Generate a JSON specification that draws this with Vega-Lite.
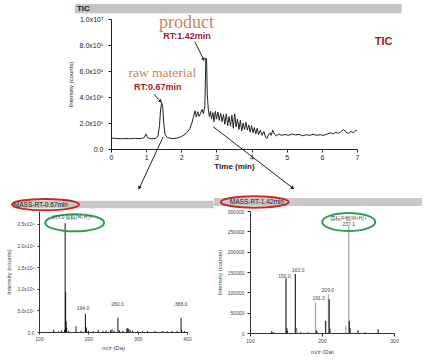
{
  "$schema": "https://vega.github.io/schema/vega-lite/v6.json",
  "background": "white",
  "padding": {"left": 5, "top": 4, "right": 0, "bottom": 0},
  "config": {
    "view": {"stroke": null},
    "font": "Liberation Sans",
    "axis": {"grid": false, "domainColor": "#222", "tickColor": "#222", "labelColor": "#222", "titleColor": "#222", "titleFontWeight": "normal"}
  },
  "bounds": "flush",
  "spacing": 62,
  "vconcat": [
    {
      "width": 318,
      "height": 130,
      "resolve": {"axis": {"x": "independent", "y": "independent"}},
      "layer": [
        {
          "data": {"values": [
            {"t":0,"i":850000},{"t":0.1,"i":820000},{"t":0.2,"i":800000},{"t":0.3,"i":790000},{"t":0.4,"i":810000},{"t":0.5,"i":800000},{"t":0.6,"i":790000},{"t":0.7,"i":820000},{"t":0.8,"i":800000},{"t":0.9,"i":830000},{"t":0.95,"i":900000},{"t":1.0,"i":1150000},{"t":1.04,"i":880000},{"t":1.1,"i":800000},{"t":1.2,"i":790000},{"t":1.28,"i":820000},{"t":1.34,"i":1000000},{"t":1.38,"i":1800000},{"t":1.41,"i":3000000},{"t":1.44,"i":3560000},{"t":1.47,"i":3300000},{"t":1.5,"i":2000000},{"t":1.54,"i":1100000},{"t":1.6,"i":880000},{"t":1.7,"i":820000},{"t":1.8,"i":810000},{"t":1.9,"i":850000},{"t":2.0,"i":950000},{"t":2.08,"i":1080000},{"t":2.16,"i":1260000},{"t":2.24,"i":1550000},{"t":2.3,"i":2000000},{"t":2.36,"i":2600000},{"t":2.39,"i":2940000},{"t":2.43,"i":2450000},{"t":2.47,"i":2870000},{"t":2.51,"i":2500000},{"t":2.55,"i":2750000},{"t":2.59,"i":3050000},{"t":2.63,"i":2700000},{"t":2.67,"i":3300000},{"t":2.7,"i":7000000},{"t":2.72,"i":6800000},{"t":2.74,"i":4200000},{"t":2.77,"i":3000000},{"t":2.8,"i":2500000},{"t":2.83,"i":2900000},{"t":2.86,"i":2300000},{"t":2.9,"i":2800000},{"t":2.93,"i":2100000},{"t":2.97,"i":2900000},{"t":3.0,"i":2300000},{"t":3.04,"i":2850000},{"t":3.08,"i":2200000},{"t":3.12,"i":2750000},{"t":3.16,"i":2100000},{"t":3.2,"i":2650000},{"t":3.24,"i":1900000},{"t":3.28,"i":2700000},{"t":3.32,"i":1800000},{"t":3.36,"i":2500000},{"t":3.4,"i":1750000},{"t":3.44,"i":2600000},{"t":3.48,"i":1600000},{"t":3.52,"i":2700000},{"t":3.56,"i":1700000},{"t":3.6,"i":2300000},{"t":3.64,"i":1500000},{"t":3.68,"i":2200000},{"t":3.72,"i":1400000},{"t":3.76,"i":2000000},{"t":3.8,"i":1500000},{"t":3.84,"i":2050000},{"t":3.88,"i":1450000},{"t":3.92,"i":1850000},{"t":3.96,"i":1300000},{"t":4.0,"i":1800000},{"t":4.04,"i":1250000},{"t":4.08,"i":1650000},{"t":4.12,"i":1150000},{"t":4.16,"i":1600000},{"t":4.2,"i":1100000},{"t":4.25,"i":1450000},{"t":4.3,"i":1050000},{"t":4.35,"i":1350000},{"t":4.4,"i":900000},{"t":4.44,"i":820000},{"t":4.48,"i":1100000},{"t":4.52,"i":1250000},{"t":4.56,"i":1050000},{"t":4.6,"i":1450000},{"t":4.65,"i":1150000},{"t":4.7,"i":1000000},{"t":4.78,"i":1150000},{"t":4.85,"i":1050000},{"t":4.95,"i":1120000},{"t":5.05,"i":1050000},{"t":5.15,"i":1150000},{"t":5.25,"i":1080000},{"t":5.35,"i":1120000},{"t":5.45,"i":1020000},{"t":5.55,"i":1100000},{"t":5.65,"i":1050000},{"t":5.75,"i":1130000},{"t":5.85,"i":1060000},{"t":5.95,"i":1100000},{"t":6.05,"i":1050000},{"t":6.15,"i":1150000},{"t":6.25,"i":1250000},{"t":6.32,"i":1150000},{"t":6.4,"i":1300000},{"t":6.48,"i":1200000},{"t":6.55,"i":1350000},{"t":6.62,"i":1500000},{"t":6.68,"i":1300000},{"t":6.75,"i":1200000},{"t":6.82,"i":1350000},{"t":6.9,"i":1250000},{"t":6.96,"i":1400000},{"t":7.0,"i":1450000}
          ]},
          "mark": {"type": "line", "color": "#222", "strokeWidth": 1},
          "encoding": {
            "x": {"field": "t", "type": "quantitative",
              "scale": {"domain": [0, 7], "range": [72, 318]},
              "axis": {"values": [0,1,2,3,4,5,6,7], "labelOverlap": false, "title": "Time (min)", "titleFontWeight": "bold", "titleFontSize": 8, "labelFontSize": 7, "tickSize": 3, "labelPadding": 1, "titlePadding": 2, "labelFlush": false}},
            "y": {"field": "i", "type": "quantitative",
              "scale": {"domain": [0, 10000000]},
              "axis": {"values": [0,2000000,4000000,6000000,8000000,10000000], "labelOverlap": false, "offset": -72,
                "labelExpr": "datum.value == 0 ? '0.0' : (datum.value >= 10000000 ? format(datum.value/10000000,'.1f') + 'x10⁷' : format(datum.value/1000000,'.1f') + 'x10⁶')",
                "title": "Intensity (counts)", "titleFontSize": 6, "labelFontSize": 7, "tickSize": 3, "labelPadding": 5, "titlePadding": 6}}
          }
        },
        {
          "data": {"values": [{}]},
          "mark": {"type": "rect", "color": "#c4c4c4"},
          "encoding": {"x": {"datum": -1.023, "axis": null}, "x2": {"datum": 8.27}, "y": {"datum": 11150000, "axis": null}, "y2": {"datum": 10440000}}
        },
        {
          "data": {"values": [{}]},
          "mark": {"type": "text", "text": "TIC", "align": "left", "baseline": "middle", "fontSize": 8, "fontWeight": "bold", "color": "#222"},
          "encoding": {"x": {"datum": -0.97, "axis": null}, "y": {"datum": 10800000, "axis": null}}
        },
        {
          "data": {"values": [{}]},
          "mark": {"type": "text", "text": "product", "align": "center", "baseline": "alphabetic", "font": "Liberation Serif", "fontSize": 18, "color": "#c8855c"},
          "encoding": {"x": {"datum": 2.145, "axis": null}, "y": {"datum": 9330000, "axis": null}}
        },
        {
          "data": {"values": [{}]},
          "mark": {"type": "text", "text": "RT:1.42min", "align": "center", "baseline": "middle", "fontSize": 9, "fontWeight": "bold", "color": "#9e1b1b"},
          "encoding": {"x": {"datum": 2.16, "axis": null}, "y": {"datum": 8690000, "axis": null}}
        },
        {
          "data": {"values": [{}]},
          "mark": {"type": "text", "text": "raw material", "align": "center", "baseline": "alphabetic", "font": "Liberation Serif", "fontSize": 13.5, "color": "#c8855c"},
          "encoding": {"x": {"datum": 1.463, "axis": null}, "y": {"datum": 5540000, "axis": null}}
        },
        {
          "data": {"values": [{}]},
          "mark": {"type": "text", "text": "RT:0.67min", "align": "center", "baseline": "middle", "fontSize": 9, "fontWeight": "bold", "color": "#9e1b1b"},
          "encoding": {"x": {"datum": 1.327, "axis": null}, "y": {"datum": 4750000, "axis": null}}
        },
        {
          "data": {"values": [{}]},
          "mark": {"type": "text", "text": "TIC", "align": "center", "baseline": "middle", "fontSize": 11, "fontWeight": "bold", "color": "#9e1b1b"},
          "encoding": {"x": {"datum": 7.76, "axis": null}, "y": {"datum": 8250000, "axis": null}}
        },
        {
          "data": {"values": [{}]},
          "mark": {"type": "rule", "color": "#222", "strokeWidth": 1},
          "encoding": {"x": {"datum": 2.386, "axis": null}, "y": {"datum": 8250000, "axis": null}, "x2": {"datum": 2.642}, "y2": {"datum": 6850000}}
        },
        {
          "data": {"values": [{}]},
          "mark": {"type": "point", "shape": "triangle", "filled": true, "opacity": 1, "color": "#222", "size": 16, "angle": 154},
          "encoding": {"x": {"datum": 2.63, "axis": null}, "y": {"datum": 6920000, "axis": null}}
        },
        {
          "data": {"values": [{}]},
          "mark": {"type": "rule", "color": "#222", "strokeWidth": 1},
          "encoding": {"x": {"datum": 1.222, "axis": null}, "y": {"datum": 4210000, "axis": null}, "x2": {"datum": 1.412}, "y2": {"datum": 3640000}}
        },
        {
          "data": {"values": [{}]},
          "mark": {"type": "point", "shape": "triangle", "filled": true, "opacity": 1, "color": "#222", "size": 16, "angle": 138},
          "encoding": {"x": {"datum": 1.4, "axis": null}, "y": {"datum": 3690000, "axis": null}}
        },
        {
          "data": {"values": [{}]},
          "mark": {"type": "rule", "color": "#222", "strokeWidth": 1},
          "encoding": {"x": {"datum": 1.486, "axis": null}, "y": {"datum": 946000, "axis": null}, "x2": {"datum": 0.804}, "y2": {"datum": -3020000}}
        },
        {
          "data": {"values": [{}]},
          "mark": {"type": "point", "shape": "triangle", "filled": true, "opacity": 1, "color": "#222", "size": 18, "angle": 205},
          "encoding": {"x": {"datum": 0.81, "axis": null}, "y": {"datum": -2960000, "axis": null}}
        },
        {
          "data": {"values": [{}]},
          "mark": {"type": "rule", "color": "#222", "strokeWidth": 1},
          "encoding": {"x": {"datum": 2.907, "axis": null}, "y": {"datum": 1715000, "axis": null}, "x2": {"datum": 5.18}, "y2": {"datum": -3020000}}
        },
        {
          "data": {"values": [{}]},
          "mark": {"type": "point", "shape": "triangle", "filled": true, "opacity": 1, "color": "#222", "size": 18, "angle": 128},
          "encoding": {"x": {"datum": 5.16, "axis": null}, "y": {"datum": -2980000, "axis": null}}
        }
      ]
    },
    {
      "bounds": "flush",
      "spacing": 63,
      "hconcat": [
        {
          "width": 148,
          "height": 121,
          "resolve": {"axis": {"x": "independent", "y": "independent"}},
          "layer": [
            {
              "data": {"values": [
                {"mz":130,"intensity":50000},{"mz":140,"intensity":20000},{"mz":146,"intensity":40000},{"mz":152,"intensity":50000},{"mz":153,"intensity":2520000},{"mz":154,"intensity":930000},{"mz":155,"intensity":250000},{"mz":156,"intensity":100000},{"mz":160,"intensity":20000},{"mz":175,"intensity":130000},{"mz":185,"intensity":20000},{"mz":194,"intensity":420000},{"mz":195,"intensity":120000},{"mz":196,"intensity":80000},{"mz":200,"intensity":30000},{"mz":210,"intensity":20000},{"mz":220,"intensity":50000},{"mz":230,"intensity":20000},{"mz":236,"intensity":30000},{"mz":245,"intensity":40000},{"mz":248,"intensity":60000},{"mz":252,"intensity":30000},{"mz":260,"intensity":330000},{"mz":263,"intensity":40000},{"mz":270,"intensity":30000},{"mz":278,"intensity":80000},{"mz":280,"intensity":90000},{"mz":282,"intensity":70000},{"mz":285,"intensity":40000},{"mz":290,"intensity":30000},{"mz":300,"intensity":20000},{"mz":310,"intensity":20000},{"mz":320,"intensity":20000},{"mz":335,"intensity":20000},{"mz":350,"intensity":20000},{"mz":360,"intensity":20000},{"mz":370,"intensity":20000},{"mz":380,"intensity":25000},{"mz":388,"intensity":330000},{"mz":389,"intensity":50000},{"mz":395,"intensity":20000}
              ]},
              "mark": {"type": "rule", "color": "#111", "strokeWidth": 1},
              "encoding": {
                "x": {"field": "mz", "type": "quantitative", "scale": {"domain": [100, 400]},
                  "axis": {"values": [100,200,300,400], "labelOverlap": false, "title": "m/z (Da)", "labelFontSize": 5, "titleFontSize": 6, "tickSize": 2, "labelPadding": 2, "titlePadding": 3, "labelColor": "#444", "titleColor": "#444", "domainColor": "#333", "labelFlush": false}},
                "y": {"field": "intensity", "type": "quantitative", "scale": {"domain": [0, 2750000]},
                  "axis": {"values": [0,500000,1000000,1500000,2000000,2500000], "labelOverlap": false,
                    "labelExpr": "datum.value == 0 ? '0.0' : (datum.value < 1000000 ? format(datum.value/100000,'.1f') + 'x10⁵' : format(datum.value/1000000,'.1f') + 'x10⁶')",
                    "title": "Intensity (counts)", "labelFontSize": 5, "titleFontSize": 6, "tickSize": 2, "labelPadding": 3, "titlePadding": 5, "labelColor": "#444", "titleColor": "#444", "domainColor": "#333"}},
                "y2": {"datum": 0}
              }
            },
            {
              "data": {"values": [{}]},
              "mark": {"type": "rect", "color": "#c8c8c8"},
              "encoding": {"x": {"datum": 47, "axis": null}, "x2": {"datum": 454}, "y": {"datum": 3035000, "axis": null}, "y2": {"datum": 2865000}}
            },
            {
              "data": {"values": [{}]},
              "mark": {"type": "text", "text": "MASS-RT-0.67min", "align": "left", "baseline": "middle", "fontSize": 6.5, "color": "#222"},
              "encoding": {"x": {"datum": 49, "axis": null}, "y": {"datum": 2950000, "axis": null}}
            },
            {
              "data": {"values": [{}]},
              "mark": {"type": "point", "shape": "M-1,0A1,0.17,0,1,1,1,0A1,0.17,0,1,1,-1,0Z", "filled": false, "opacity": 1, "stroke": "#c62828", "strokeWidth": 2, "size": 4489},
              "encoding": {"x": {"datum": 113.2, "axis": null}, "y": {"datum": 2948000, "axis": null}}
            },
            {
              "data": {"values": [{}]},
              "mark": {"type": "point", "shape": "M-1,0A1,0.29,0,1,1,1,0A1,0.29,0,1,1,-1,0Z", "filled": false, "opacity": 1, "stroke": "#2e9e55", "strokeWidth": 2, "size": 3481},
              "encoding": {"x": {"datum": 172.3, "axis": null}, "y": {"datum": 2527000, "axis": null}}
            },
            {
              "data": {"values": [{}]},
              "mark": {"type": "text", "text": "153.0 原料[M+H]+", "align": "center", "baseline": "middle", "font": "Noto Sans CJK SC", "fontSize": 5, "color": "#444"},
              "encoding": {"x": {"datum": 167, "axis": null}, "y": {"datum": 2652000, "axis": null}}
            },
            {
              "data": {"values": [
                {"mz": 189, "at": 555000, "label": "194.0"},
                {"mz": 259, "at": 645000, "label": "260.0"},
                {"mz": 388, "at": 645000, "label": "388.0"}
              ]},
              "mark": {"type": "text", "align": "center", "baseline": "middle", "fontSize": 5, "color": "#444"},
              "encoding": {"x": {"field": "mz", "type": "quantitative", "axis": null}, "y": {"field": "at", "type": "quantitative", "axis": null}, "text": {"field": "label"}}
            }
          ]
        },
        {
          "width": 144,
          "height": 122,
          "resolve": {"axis": {"x": "independent", "y": "independent"}},
          "layer": [
            {
              "data": {"values": [
                {"mz":130,"intensity":4000,"trace":"a"},{"mz":132,"intensity":2500,"trace":"a"},{"mz":150,"intensity":134000,"trace":"a"},{"mz":151,"intensity":12000,"trace":"a"},{"mz":152,"intensity":6000,"trace":"a"},{"mz":163,"intensity":145000,"trace":"a"},{"mz":164,"intensity":12000,"trace":"a"},{"mz":165,"intensity":8000,"trace":"b"},{"mz":170,"intensity":2000,"trace":"a"},{"mz":180,"intensity":1500,"trace":"a"},{"mz":191,"intensity":75000,"trace":"b"},{"mz":192,"intensity":7000,"trace":"a"},{"mz":193,"intensity":3000,"trace":"a"},{"mz":205,"intensity":30000,"trace":"a"},{"mz":209,"intensity":95000,"trace":"b"},{"mz":210,"intensity":83000,"trace":"a"},{"mz":211,"intensity":10000,"trace":"a"},{"mz":233,"intensity":17000,"trace":"b"},{"mz":237.1,"intensity":263000,"trace":"b"},{"mz":238,"intensity":30000,"trace":"a"},{"mz":239,"intensity":12000,"trace":"a"},{"mz":250,"intensity":7000,"trace":"a"},{"mz":260,"intensity":2000,"trace":"a"},{"mz":278,"intensity":9000,"trace":"a"}
              ]},
              "mark": {"type": "rule", "strokeWidth": 1.3},
              "encoding": {
                "x": {"field": "mz", "type": "quantitative", "scale": {"domain": [100, 300]},
                  "axis": {"values": [100,200,300], "labelOverlap": false, "title": "m/z (Da)", "labelFontSize": 5, "titleFontSize": 6, "tickSize": 3, "labelPadding": 2, "titlePadding": 5, "labelColor": "#444", "titleColor": "#444", "domainColor": "#333", "labelFlush": false}},
                "y": {"field": "intensity", "type": "quantitative", "scale": {"domain": [0, 300000]},
                  "axis": {"values": [0,50000,100000,150000,200000,250000,300000], "labelOverlap": false, "format": "d",
                    "title": "Intensity (counts)", "labelFontSize": 5, "titleFontSize": 6, "tickSize": 3, "labelPadding": 3, "titlePadding": 5, "labelColor": "#444", "titleColor": "#444", "domainColor": "#333"}},
                "y2": {"datum": 0},
                "color": {"field": "trace", "type": "nominal", "scale": {"domain": ["a", "b"], "range": ["#333333", "#a8a8a8"]}, "legend": null}
              }
            },
            {
              "data": {"values": [{}]},
              "mark": {"type": "rect", "color": "#c8c8c8"},
              "encoding": {"x": {"datum": 49.8, "axis": null}, "x2": {"datum": 338.7}, "y": {"datum": 332000, "axis": null}, "y2": {"datum": 312300}}
            },
            {
              "data": {"values": [{}]},
              "mark": {"type": "text", "text": "MASS-RT-1.42min", "align": "left", "baseline": "middle", "fontSize": 6.5, "color": "#222"},
              "encoding": {"x": {"datum": 72, "axis": null}, "y": {"datum": 322000, "axis": null}}
            },
            {
              "data": {"values": [{}]},
              "mark": {"type": "point", "shape": "M-1,0A1,0.17,0,1,1,1,0A1,0.17,0,1,1,-1,0Z", "filled": false, "opacity": 1, "stroke": "#c62828", "strokeWidth": 2, "size": 4624},
              "encoding": {"x": {"datum": 106.5, "axis": null}, "y": {"datum": 322100, "axis": null}}
            },
            {
              "data": {"values": [{}]},
              "mark": {"type": "point", "shape": "M-1,0A1,0.34,0,1,1,1,0A1,0.34,0,1,1,-1,0Z", "filled": false, "opacity": 1, "stroke": "#2e9e55", "strokeWidth": 2, "size": 2809},
              "encoding": {"x": {"datum": 237.1, "axis": null}, "y": {"datum": 273000, "axis": null}}
            },
            {
              "data": {"values": [{}]},
              "mark": {"type": "text", "text": "目标产物[M+H]+", "align": "center", "baseline": "middle", "font": "Noto Sans CJK SC", "fontSize": 5, "color": "#444"},
              "encoding": {"x": {"datum": 237, "axis": null}, "y": {"datum": 282800, "axis": null}}
            },
            {
              "data": {"values": [{}]},
              "mark": {"type": "text", "text": "237.1", "align": "center", "baseline": "middle", "fontSize": 5, "color": "#444"},
              "encoding": {"x": {"datum": 237, "axis": null}, "y": {"datum": 268000, "axis": null}}
            },
            {
              "data": {"values": [
                {"mz": 148, "at": 140900, "label": "150.0"},
                {"mz": 166.9, "at": 154900, "label": "163.0"},
                {"mz": 195.4, "at": 85300, "label": "191.0"},
                {"mz": 208.1, "at": 105700, "label": "209.0"}
              ]},
              "mark": {"type": "text", "align": "center", "baseline": "middle", "fontSize": 5, "color": "#444"},
              "encoding": {"x": {"field": "mz", "type": "quantitative", "axis": null}, "y": {"field": "at", "type": "quantitative", "axis": null}, "text": {"field": "label"}}
            }
          ]
        }
      ]
    }
  ]
}
